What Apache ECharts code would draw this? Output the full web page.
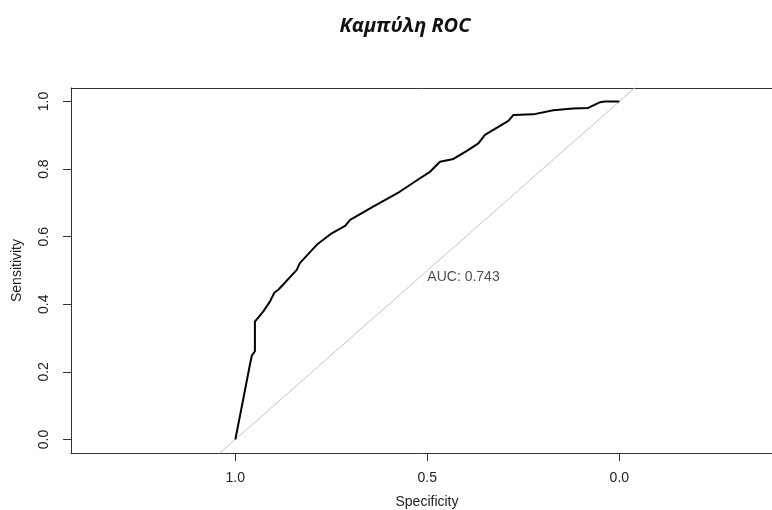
<!DOCTYPE html>
<html>
<head>
<meta charset="utf-8">
<script src="https://cdn.jsdelivr.net/npm/echarts@6/dist/echarts.min.js"></script>
<style>
  html, body { margin: 0; padding: 0; background: #fff; }
  #chart { width: 772px; height: 510px; }
</style>
</head>
<body>
<div id="chart"></div>
<script>
// ROC curve: specificity (x, reversed) vs sensitivity (y)
const specificity = [1.000, 0.988, 0.962, 0.957, 0.949, 0.949, 0.927, 0.910, 0.898, 0.888,
  0.840, 0.832, 0.788, 0.749, 0.714, 0.701, 0.641, 0.572, 0.519, 0.493,
  0.467, 0.432, 0.397, 0.367, 0.350, 0.315, 0.289, 0.276, 0.224, 0.172,
  0.120, 0.081, 0.050, 0.038, 0.000];
const sensitivity = [0.000, 0.069, 0.221, 0.248, 0.261, 0.349, 0.379, 0.408, 0.435, 0.443,
  0.502, 0.522, 0.576, 0.610, 0.632, 0.650, 0.689, 0.733, 0.773, 0.792,
  0.822, 0.830, 0.854, 0.876, 0.901, 0.925, 0.943, 0.960, 0.962, 0.974,
  0.979, 0.981, 0.998, 1.000, 1.000];

// chance diagonal (sensitivity = 1 - specificity), clipped by the plot area
const chanceSpec = [1.5, -0.5];
const chanceSens = [-0.5, 1.5];

const xTicks = [0, 0.5, 1.0];
const yTicks = [0, 0.2, 0.4, 0.6, 0.8, 1.0];
const aucValue = 0.743;
const aucAnchor = [0.5, 0.5];

const labelFont = { fontFamily: 'Liberation Sans, Arial, sans-serif', fontSize: 14, color: '#222' };
const frameLine = { show: true, onZero: false, lineStyle: { color: '#333', width: 1 } };
const fmt = v => v.toFixed(1);

const chart = echarts.init(document.getElementById('chart'), null, { renderer: 'canvas' });
chart.setOption({
  animation: false,
  backgroundColor: '#fff',
  title: {
    text: 'Καμπύλη ROC',
    left: 400,
    top: 11,
    textAlign: 'center',
    textStyle: { fontFamily: 'Open Sans, Noto Sans, sans-serif', fontSize: 20, fontWeight: 'bold', fontStyle: 'italic', color: '#111' }
  },
  grid: { left: 71, right: 0, top: 88, bottom: 57, outerBoundsMode: 'none', containLabel: false },
  xAxis: [
    {
      type: 'value',
      inverse: true,
      min: -0.3976, max: 1.4279,
      splitLine: { show: false },
      axisLine: frameLine,
      axisTick: { show: true, length: 8, lineStyle: { color: '#333' }, customValues: xTicks },
      axisLabel: Object.assign({ margin: 18, formatter: fmt, customValues: xTicks }, labelFont),
      name: 'Specificity',
      nameLocation: 'middle',
      nameGap: 42,
      nameTextStyle: Object.assign({ padding: [0, 0, 0, 11] }, labelFont)
    },
    {
      // top edge of the plot frame
      type: 'value',
      position: 'top',
      inverse: true,
      min: -0.3976, max: 1.4279,
      splitLine: { show: false },
      axisLine: frameLine,
      axisTick: { show: false },
      axisLabel: { show: false }
    }
  ],
  yAxis: {
    type: 'value',
    min: -0.04, max: 1.04,
    splitLine: { show: false },
    axisLine: frameLine,
    axisTick: { show: true, length: 8, lineStyle: { color: '#333' }, customValues: yTicks },
    axisLabel: Object.assign({ margin: 20, rotate: 90, formatter: fmt, customValues: yTicks }, labelFont),
    name: 'Sensitivity',
    nameLocation: 'middle',
    nameGap: 47,
    nameTextStyle: labelFont
  },
  series: [
    {
      type: 'line',
      data: chanceSpec.map((s, i) => [s, chanceSens[i]]),
      symbol: 'none',
      clip: true,
      lineStyle: { color: '#c4c4c4', width: 1 },
      silent: true
    },
    {
      type: 'line',
      data: specificity.map((s, i) => [s, sensitivity[i]]),
      symbol: 'none',
      clip: true,
      lineStyle: { color: '#000', width: 2 },
      silent: true
    },
    {
      type: 'scatter',
      data: [aucAnchor],
      symbolSize: 0,
      silent: true,
      label: Object.assign({
        show: true,
        position: [0, 0],
        align: 'left',
        verticalAlign: 'top',
        formatter: 'AUC: ' + aucValue.toFixed(3)
      }, labelFont)
    }
  ]
});
</script>
</body>
</html>
